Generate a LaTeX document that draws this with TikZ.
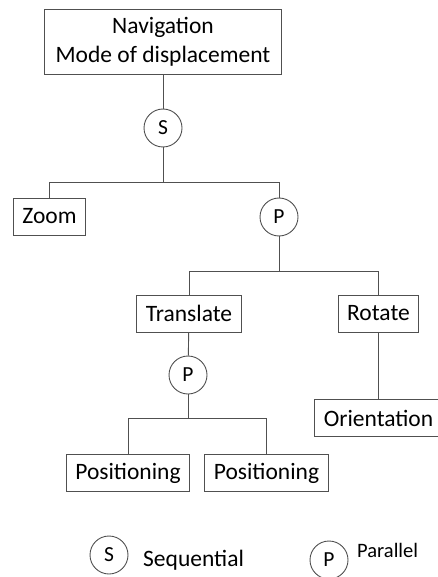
\documentclass[tikz,border=0pt]{standalone}
\usepackage{fontspec}
\setmainfont{Carlito}
\usepackage{tikz}
\definecolor{linegray}{HTML}{505050}

\begin{document}
\begin{tikzpicture}[x=1pt,y=-1pt,
    box/.style={draw=linegray, line width=0.9, rectangle, inner xsep=9, inner ysep=0, minimum height=37, font=\fontsize{23.5}{29}\selectfont},
    op/.style={draw=linegray, line width=0.9, circle, inner sep=0, minimum size=38, font=\fontsize{21.5}{25}\selectfont},
    link/.style={draw=linegray, line width=0.9}]
    \useasboundingbox (0,0) rectangle (438,577);
           \node[box, align=center, minimum height=65, inner xsep=11](nav)  at (163,41.5) {Navigation\\Mode of displacement};
           \node[op](seq)  at (163,128) {S};
           \node[box](zoom)  at (49.5,216.5) {Zoom};
           \node[op](par)  at (279,217) {P};
           \node[box](trans)  at (189,313.5) {Translate};
           \node[box](rot)  at (378.5,313.5) {Rotate};
           \node[op](partr)  at (188,375) {P};
           \node[box](posa)  at (128,473) {Positioning};
           \node[box](posb)  at (266.5,473) {Positioning};
           \node[box](orient)  at (378.5,418) {Orientation};
      \coordinate (jseq)  at (163,182);
      \coordinate (jpar)  at (279,271);
      \coordinate (jtr)  at (188,418);
      \draw[link] (nav) -- (seq);
      \draw[link] (seq) -- (jseq);
      \draw[link] (jseq) -| (zoom);
      \draw[link] (jseq) -| (par);
      \draw[link] (par) -- (jpar);
      \draw[link] (jpar) -| (trans);
      \draw[link] (jpar) -| (rot);
      \draw[link] (trans) -- (partr);
      \draw[link] (partr) -- (jtr);
      \draw[link] (jtr) -| (posa);
      \draw[link] (jtr) -| (posb);
      \draw[link] (rot) -- (orient);
      % legend
           \node[op](legs)  at (109,555) {S};
           \node[anchor=base west, inner sep=0, font=\fontsize{23.5}{29}\selectfont](legstxt)  at (143,566) {Sequential};
           \node[op](legp)  at (329,560) {P};
           \node[anchor=base west, inner sep=0, font=\fontsize{20.5}{25}\selectfont](legptxt)  at (357,557) {Parallel};
\end{tikzpicture}
\end{document}
